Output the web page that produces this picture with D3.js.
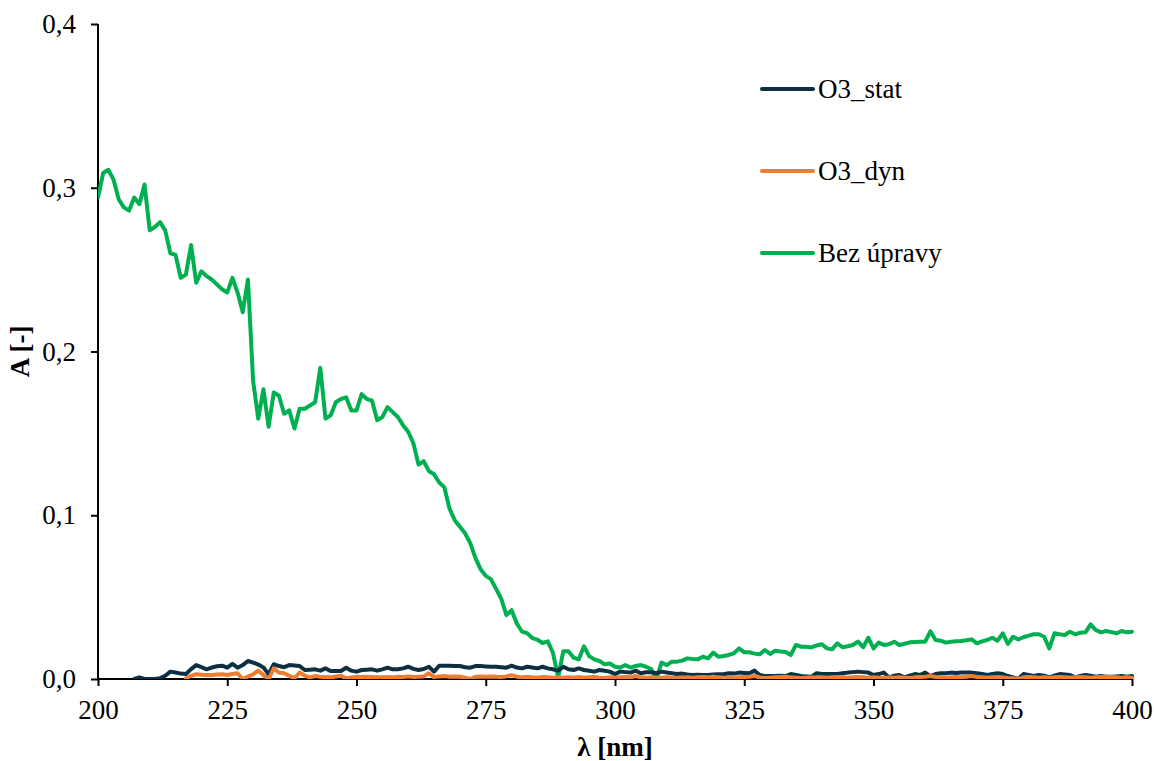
<!DOCTYPE html>
<html>
<head>
<meta charset="utf-8">
<script src="https://cdn.jsdelivr.net/npm/d3@7"></script>
<style>
  html, body { margin: 0; padding: 0; background: #fff; }
  svg { display: block; }
  svg text { font-family: "Times New Roman", "Liberation Serif", "DejaVu Serif", serif; }
</style>
</head>
<body>
<svg id="chart" width="1154" height="761"></svg>
<script>
// Wavelength grid (nm), one point per nanometre
const wavelengths = d3.range(200, 401);

// Absorbance of the untreated sample, 200–400 nm
const bezUpravy = [
  0.294, 0.309, 0.311, 0.305, 0.293, 0.288, 0.286, 0.294, 0.290, 0.302,
  0.274, 0.276, 0.279, 0.274, 0.260, 0.259, 0.245, 0.247, 0.265, 0.242,
  0.249, 0.246, 0.244, 0.241, 0.238, 0.236, 0.245, 0.236, 0.224, 0.244,
  0.182, 0.159, 0.177, 0.154, 0.175, 0.173, 0.162, 0.164, 0.153, 0.165,
  0.165, 0.167, 0.169, 0.190, 0.159, 0.161, 0.169, 0.171, 0.172, 0.164,
  0.164, 0.174, 0.171, 0.170, 0.158, 0.160, 0.166, 0.163, 0.160, 0.155,
  0.151, 0.144, 0.131, 0.133, 0.127, 0.125, 0.120, 0.117, 0.104, 0.097,
  0.093, 0.089, 0.083, 0.074, 0.067, 0.063, 0.061, 0.055, 0.049, 0.039,
  0.042, 0.034, 0.029, 0.028, 0.025, 0.024, 0.022, 0.023, 0.016, 0.001,
  0.017, 0.017, 0.013, 0.012, 0.020, 0.014, 0.012, 0.011, 0.009, 0.0095,
  0.0075, 0.007, 0.0085, 0.007, 0.008, 0.0085, 0.0075, 0.006, 0.000, 0.010,
  0.0085, 0.0106, 0.0106, 0.0112, 0.0126, 0.0122, 0.012, 0.0136, 0.0126, 0.0161,
  0.0136, 0.014, 0.0147, 0.0157, 0.0187, 0.0163, 0.0163, 0.0155, 0.0151, 0.0177,
  0.0153, 0.0173, 0.0168, 0.0165, 0.0147, 0.0208, 0.0197, 0.0197, 0.0193, 0.0205,
  0.0212, 0.0187, 0.0181, 0.0218, 0.0194, 0.0200, 0.0208, 0.0228, 0.0194, 0.0252,
  0.0187, 0.0222, 0.0208, 0.0212, 0.0228, 0.0208, 0.0215, 0.0224, 0.0226, 0.0228,
  0.0228, 0.0291, 0.0238, 0.0234, 0.0222, 0.0228, 0.0230, 0.0232, 0.0237, 0.0242,
  0.0218, 0.0230, 0.0238, 0.0252, 0.0234, 0.0279, 0.0214, 0.0258, 0.0242, 0.0255,
  0.0265, 0.0273, 0.0273, 0.0258, 0.0187, 0.0279, 0.0273, 0.0269, 0.0289, 0.0273,
  0.0283, 0.0285, 0.0334, 0.0299, 0.0285, 0.0293, 0.0286, 0.0279, 0.0293, 0.0285,
  0.0289
];

// Static ozonation, measured from 207 nm
const o3StatStart = 207;
const o3Stat = [
  0.000, 0.001, 0.000, 0.000, 0.000, 0.0004, 0.002, 0.0045, 0.004, 0.0033,
  0.003, 0.006, 0.0085, 0.0072, 0.0059, 0.0070, 0.0078, 0.0081, 0.0069, 0.0092,
  0.0069, 0.0085, 0.011, 0.010, 0.0088, 0.0070, 0.0029, 0.009, 0.0079, 0.0072,
  0.0085, 0.0082, 0.0079, 0.0055, 0.0057, 0.0059, 0.0051, 0.0065, 0.0049, 0.0049,
  0.0049, 0.0069, 0.0051, 0.0045, 0.0055, 0.0057, 0.0059, 0.0051, 0.0059, 0.0069,
  0.0059, 0.0059, 0.0065, 0.0075, 0.0062, 0.0055, 0.0061, 0.0075, 0.0045, 0.0081,
  0.0081, 0.0081, 0.0080, 0.0079, 0.0072, 0.0069, 0.0079, 0.0079, 0.0077, 0.0075,
  0.0075, 0.0072, 0.0069, 0.0081, 0.0070, 0.0065, 0.0075, 0.0070, 0.0065, 0.0075,
  0.0065, 0.0059, 0.0051, 0.0075, 0.0059, 0.0055, 0.0065, 0.0055, 0.0050, 0.0045,
  0.0055, 0.0050, 0.0045, 0.0030, 0.0045, 0.0042, 0.0039, 0.0051, 0.0035, 0.0041,
  0.0041, 0.0035, 0.0045, 0.0040, 0.0035, 0.0030, 0.0033, 0.0027, 0.0024, 0.0026,
  0.0024, 0.0024, 0.0027, 0.0029, 0.0029, 0.0035, 0.0033, 0.0039, 0.0037, 0.0035,
  0.0051, 0.0024, 0.0018, 0.0018, 0.0018, 0.0020, 0.0018, 0.0030, 0.0024, 0.0018,
  0.0016, 0.0014, 0.0035, 0.0030, 0.0030, 0.0030, 0.0030, 0.0035, 0.0039, 0.0042,
  0.0045, 0.0042, 0.0039, 0.0024, 0.0030, 0.0039, 0.0010, 0.0020, 0.0024, 0.0010,
  0.0020, 0.0030, 0.0024, 0.0039, 0.0018, 0.0030, 0.0035, 0.0035, 0.0039, 0.0037,
  0.0039, 0.0039, 0.0039, 0.0035, 0.0030, 0.0024, 0.0030, 0.0035, 0.0030, 0.0018,
  0.0010, 0.0000, 0.0030, 0.0024, 0.0018, 0.0024, 0.0020, 0.0010, 0.0020, 0.0030,
  0.0027, 0.0024, 0.0010, 0.0018, 0.0024, 0.0020, 0.0014, 0.0018, 0.0014, 0.0014,
  0.0016, 0.0018, 0.0014, 0.0018
];

// Dynamic ozonation, measured from 217 nm
const o3DynStart = 217;
const o3Dyn = [
  0.0004, 0.0020, 0.0029, 0.0026, 0.0024, 0.0024, 0.0027, 0.0029, 0.0024, 0.0030,
  0.0035, 0.0000, 0.0015, 0.0029, 0.0051, 0.0024, 0.0000, 0.0065, 0.0040, 0.0035,
  0.0020, 0.0004, 0.0040, 0.0020, 0.0010, 0.0018, 0.0014, 0.0012, 0.0010, 0.0015,
  0.0020, 0.0004, 0.0010, 0.0014, 0.0012, 0.0014, 0.0012, 0.0010, 0.0010, 0.0012,
  0.0010, 0.0014, 0.0012, 0.0016, 0.0012, 0.0014, 0.0016, 0.0035, 0.0012, 0.0016,
  0.0018, 0.0014, 0.0016, 0.0014, 0.0008, 0.0000, 0.0014, 0.0016, 0.0014, 0.0016,
  0.0014, 0.0012, 0.0016, 0.0024, 0.0014, 0.0010, 0.0012, 0.0010, 0.0008, 0.0012,
  0.0010, 0.0008, 0.0010, 0.0008, 0.0010, 0.0008, 0.0012, 0.0008, 0.0010, 0.0012,
  0.0008, 0.0006, 0.0010, 0.0008, 0.0010, 0.0012, 0.0010, 0.0018, 0.0010, 0.0008,
  0.0010, 0.0006, 0.0008, 0.0010, 0.0008, 0.0006, 0.0008, 0.0010, 0.0008, 0.0010,
  0.0012, 0.0010, 0.0014, 0.0010, 0.0008, 0.0006, 0.0008, 0.0010, 0.0012, 0.0014,
  0.0018, 0.0010, 0.0006, 0.0008, 0.0010, 0.0012, 0.0014, 0.0010, 0.0008, 0.0006,
  0.0008, 0.0010, 0.0008, 0.0010, 0.0008, 0.0010, 0.0012, 0.0010, 0.0008, 0.0010,
  0.0012, 0.0010, 0.0008, 0.0010, 0.0008, 0.0006, 0.0010, 0.0008, 0.0010, 0.0008,
  0.0006, 0.0010, 0.0012, 0.0014, 0.0018, 0.0012, 0.0010, 0.0008, 0.0010, 0.0012,
  0.0010, 0.0014, 0.0018, 0.0012, 0.0010, 0.0008, 0.0010, 0.0008, 0.0010, 0.0006,
  0.0004, 0.0000, 0.0010, 0.0012, 0.0010, 0.0008, 0.0010, 0.0008, 0.0010, 0.0012,
  0.0010, 0.0008, 0.0010, 0.0012, 0.0010, 0.0008, 0.0010, 0.0012, 0.0014, 0.0012,
  0.0010, 0.0008, 0.0010, 0.0008
];

const xTicks = [200, 225, 250, 275, 300, 325, 350, 375, 400];
const yTicks = [0, 0.1, 0.2, 0.3, 0.4];

const seriesNames = ["O3_stat", "O3_dyn", "Bez úpravy"];
const seriesColors = ["#0d2f42", "#ed7d31", "#00b050"];

const series = [
  { name: seriesNames[0], color: seriesColors[0], points: o3Stat.map((v, i) => [o3StatStart + i, v]) },
  { name: seriesNames[1], color: seriesColors[1], points: o3Dyn.map((v, i) => [o3DynStart + i, v]) },
  { name: seriesNames[2], color: seriesColors[2], points: bezUpravy.map((v, i) => [wavelengths[i], v]) }
];

const FONT = "'Times New Roman', 'Liberation Serif', 'DejaVu Serif', serif";
const FS = 27;

const svg = d3.select("#chart");
const margin = { left: 98, right: 22, top: 24, bottom: 82 };
const W = 1154, H = 761;

const x = d3.scaleLinear().domain([200, 400]).range([margin.left, W - margin.right]);
const y = d3.scaleLinear().domain([0, 0.4]).range([H - margin.bottom, margin.top]);

svg.append("defs").append("clipPath").attr("id", "plot-clip")
  .append("rect")
  .attr("x", margin.left).attr("y", margin.top - 2)
  .attr("width", W - margin.left - margin.right + 2)
  .attr("height", H - margin.top - margin.bottom + 2);

// Axes (drawn first so the traces sit on top of them)
const fmtY = v => d3.format(".1f")(v).replace(".", ",");

const yAxis = svg.append("g")
  .attr("transform", `translate(${margin.left},0)`)
  .call(d3.axisLeft(y).tickValues(yTicks).tickFormat(fmtY).tickSize(7).tickPadding(15));
const xAxis = svg.append("g")
  .attr("transform", `translate(0,${H - margin.bottom})`)
  .call(d3.axisBottom(x).tickValues(xTicks).tickFormat(d3.format("d")).tickSize(7).tickPadding(14));

[yAxis, xAxis].forEach(g => {
  g.attr("font-family", FONT).attr("font-size", FS);
  g.select(".domain").attr("stroke", "#000").attr("stroke-width", 2);
  g.selectAll(".tick line").attr("stroke", "#000").attr("stroke-width", 2);
  g.selectAll(".tick text")
    .attr("fill", "#000")
    .attr("font-family", FONT)
    .attr("font-size", FS);
});
yAxis.select(".domain").attr("d", `M0,${y(0.4)}V${y(0)}`);
xAxis.select(".domain").attr("d", `M${x(200)},0H${x(400)}`);

// Traces
const line = d3.line().x(d => x(d[0])).y(d => y(d[1]));
const lineOrder = [2, 0, 1];
svg.append("g").attr("clip-path", "url(#plot-clip)")
  .selectAll("path")
  .data(lineOrder.map(i => series[i]))
  .join("path")
  .attr("d", d => line(d.points))
  .attr("fill", "none")
  .attr("stroke", d => d.color)
  .attr("stroke-width", 4)
  .attr("stroke-linejoin", "round")
  .attr("stroke-linecap", "round");

// Axis titles
svg.append("text")
  .attr("x", (x(200) + x(400)) / 2)
  .attr("y", 756)
  .attr("text-anchor", "middle")
  .attr("font-family", FONT)
  .attr("font-size", FS)
  .attr("font-weight", "bold")
  .text("λ [nm]");

svg.append("text")
  .attr("transform", `translate(29,${(y(0) + y(0.4)) / 2}) rotate(-90)`)
  .attr("text-anchor", "middle")
  .attr("font-family", FONT)
  .attr("font-size", FS)
  .attr("font-weight", "bold")
  .text("A [-]");

// Legend
const legend = svg.append("g");
series.forEach((s, i) => {
  const ly = 89 + i * 82;
  legend.append("line")
    .attr("x1", 762).attr("x2", 813)
    .attr("y1", ly).attr("y2", ly)
    .attr("stroke", s.color).attr("stroke-width", 4)
    .attr("stroke-linecap", "round");
  legend.append("text")
    .attr("x", 818).attr("y", ly + 9)
    .attr("font-family", FONT)
    .attr("font-size", FS)
    .attr("fill", "#000")
    .text(s.name);
});
</script>
</body>
</html>
